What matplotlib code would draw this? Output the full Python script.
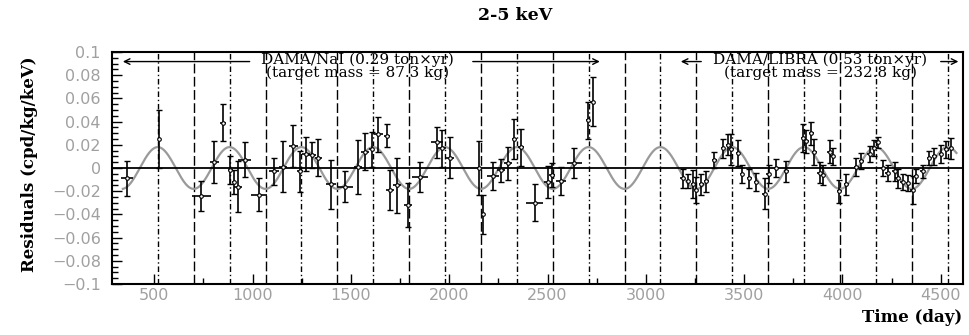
import numpy as np
import matplotlib
matplotlib.use("Agg")
import matplotlib.pyplot as plt
from matplotlib.ticker import MultipleLocator

# ---------------- data ----------------
nai_day = [360, 525, 740, 806, 849, 886, 905, 925, 959, 1032, 1108, 1153, 1208, 1240,
           1270, 1300, 1335, 1400, 1472, 1537, 1572, 1605, 1640, 1685, 1700, 1735,
           1790, 1850, 1938, 1965, 2005, 2150, 2172, 2222, 2262, 2298, 2332, 2366,
           2434, 2501, 2525, 2569, 2637, 2705, 2730]
nai_res = [-0.009, 0.025, -0.024, 0.005, 0.039, -0.002, -0.012, -0.016, 0.007, -0.023,
           -0.003, 0.001, 0.019, -0.003, 0.012, 0.011, 0.009, -0.014, -0.016, 0.001,
           0.014, 0.016, 0.029, 0.028, -0.019, -0.015, -0.032, -0.008, 0.022, 0.017,
           0.009, 0.000, -0.040, -0.007, -0.002, 0.004, 0.025, 0.018, -0.030, -0.012,
           -0.006, -0.011, 0.004, 0.041, 0.057]
nai_err = [0.015, 0.025, 0.013, 0.018, 0.016, 0.012, 0.010, 0.022, 0.015, 0.014,
           0.012, 0.022, 0.018, 0.018, 0.015, 0.011, 0.016, 0.021, 0.013, 0.023,
           0.016, 0.015, 0.015, 0.010, 0.017, 0.024, 0.019, 0.013, 0.013, 0.016,
           0.018, 0.023, 0.017, 0.012, 0.010, 0.014, 0.017, 0.016, 0.016, 0.014,
           0.010, 0.012, 0.013, 0.016, 0.021]
nai_bin = [30, 8, 50, 25, 15, 12, 12, 20, 35, 40, 25, 20, 25, 15, 20, 20, 20, 25, 40,
           20, 20, 15, 25, 15, 20, 20, 20, 40, 30, 20, 20, 10, 10, 30, 20, 20, 15, 15,
           45, 20, 15, 25, 40, 8, 12]

libra_day = [3188, 3214, 3240, 3256, 3282, 3307, 3349, 3392, 3418, 3435, 3469, 3490,
             3527, 3561, 3605, 3625, 3663, 3714, 3799, 3816, 3841, 3858, 3884, 3901,
             3935, 3951, 3985, 4019, 4070, 4096, 4138, 4163, 4180, 4206, 4231, 4265,
             4282, 4307, 4333, 4358, 4375, 4409, 4443, 4468, 4502, 4528, 4553]
libra_res = [-0.009, -0.0115, -0.014, -0.019, -0.014, -0.0115, 0.007, 0.017, 0.020,
             0.016, 0.013, -0.005, -0.009, -0.012, -0.022, -0.005, 0.000, -0.003,
             0.026, 0.023, 0.030, 0.014, -0.004, -0.006, 0.014, 0.010, -0.020, -0.014,
             0.001, 0.006, 0.012, 0.017, 0.022, 0.000, -0.004, -0.003, -0.009, -0.012,
             -0.013, -0.019, -0.007, -0.003, 0.009, 0.010, 0.012, 0.016, 0.017]
libra_err = [0.008, 0.006, 0.012, 0.011, 0.009, 0.009, 0.007, 0.008, 0.009, 0.013,
             0.011, 0.008, 0.008, 0.008, 0.013, 0.008, 0.008, 0.009, 0.012, 0.010,
             0.010, 0.011, 0.009, 0.009, 0.010, 0.007, 0.010, 0.009, 0.008, 0.007,
             0.007, 0.007, 0.005, 0.007, 0.007, 0.008, 0.008, 0.007, 0.007, 0.012,
             0.006, 0.006, 0.006, 0.007, 0.008, 0.007, 0.009]
libra_bin = 12

amplitude = 0.018      # cpd/kg/keV
phase_day = 152.5      # June 2nd
period = 365.25

peak_days = [517.75, 883.0, 1248.25, 1613.5, 1978.75, 2344.0, 2709.25, 3074.5,
             3439.75, 3805.0, 4170.25, 4535.5]
trough_days = [700.4, 1065.6, 1430.9, 1796.1, 2161.4, 2526.6, 2891.9, 3257.1,
               3622.4, 3987.6, 4352.9]

title = "2-5 keV"
ylabel = "Residuals (cpd/kg/keV)"
xlabel = "Time (day)"
nai_label = ["DAMA/NaI (0.29 ton\u00d7yr)", "(target mass = 87.3 kg)"]
libra_label = ["DAMA/LIBRA (0.53 ton\u00d7yr)", "(target mass = 232.8 kg)"]

# ---------------- figure ----------------
fig = plt.figure(figsize=(9.7, 3.35), dpi=100)
ax = fig.add_axes([0.1155, 0.152, 0.877, 0.693])
ax.set_xlim(285, 4612)
ax.set_ylim(-0.1, 0.1)

# vertical reference lines
for d in peak_days:
    ax.axvline(d, color="black", lw=1.0, dashes=(4, 2, 1, 2), zorder=1)
for d in trough_days:
    ax.axvline(d, color="black", lw=1.0, dashes=(7, 2.5), zorder=1)

# modulation curve
t = np.linspace(340, 4580, 3000)
ax.plot(t, amplitude * np.cos(2 * np.pi * (t - phase_day) / period),
        color="#9a9a9a", lw=1.6, zorder=2)

ax.axhline(0, color="black", lw=1.3, zorder=3)

# data
for days, res, err, xe in [(nai_day, nai_res, nai_err, nai_bin),
                           (libra_day, libra_res, libra_err, libra_bin)]:
    ax.errorbar(days, res, yerr=err, fmt="none", ecolor="black", elinewidth=1.2,
                capsize=2.2, capthick=1.0, zorder=4)
    ax.errorbar(days, res, xerr=xe, fmt="o", ms=2.6, mfc="white", mec="black",
                mew=0.8, ecolor="black", elinewidth=1.2, capsize=0, zorder=5)

# ticks
ax.xaxis.set_major_locator(MultipleLocator(500))
ax.xaxis.set_minor_locator(MultipleLocator(250))
ax.yaxis.set_major_locator(MultipleLocator(0.02))
ax.yaxis.set_minor_locator(MultipleLocator(0.005))
ax.tick_params(which="both", direction="in", top=False, right=False,
               labelcolor="#a0a0a0", labelsize=11.5, width=1.0)
ax.tick_params(which="major", length=7.5)
ax.tick_params(which="minor", length=4)
ax.tick_params(axis="x", pad=3)
ax.tick_params(axis="y", pad=8)


def ylab(v, p):
    if abs(v) < 1e-9:
        return "0"
    if abs(abs(v) - 0.1) < 1e-9:
        s = "0.1"
    else:
        s = f"{abs(v):.2f}"
    return ("\u2212" + s) if v < 0 else s


ax.yaxis.set_major_formatter(matplotlib.ticker.FuncFormatter(ylab))
for s in ax.spines.values():
    s.set_linewidth(1.5)

# annotations
serif = ["DejaVu Serif"]
y1 = 0.0917
ax.text(1534, 0.0995, nai_label[0] + "\n" + nai_label[1], ha="center", va="top",
        multialignment="center", linespacing=0.92, fontsize=11, family=serif, zorder=6)
arrow = dict(arrowstyle="->", color="black", lw=1.0, shrinkA=0, shrinkB=0)
ax.annotate("", xy=(340, y1), xytext=(985, y1), arrowprops=arrow)
ax.annotate("", xy=(2766, y1), xytext=(2120, y1), arrowprops=arrow)

ax.text(3888, 0.0995, libra_label[0] + "\n" + libra_label[1], ha="center", va="top",
        multialignment="center", linespacing=0.92, fontsize=11, family=serif, zorder=6)
ax.annotate("", xy=(3178, y1), xytext=(3282, y1), arrowprops=arrow)
ax.annotate("", xy=(4590, y1), xytext=(4500, y1), arrowprops=arrow)

fig.text(515 / 970, 1 - 15 / 335, title, ha="center", va="center",
         fontsize=12.5, fontweight="bold", family=serif)
fig.text(30 / 970, 1 - 164 / 335, ylabel, ha="center", va="center", rotation=90,
         fontsize=12, fontweight="bold", family=serif)
fig.text(962 / 970, 1 - 318 / 335, xlabel, ha="right", va="center",
         fontsize=12, fontweight="bold", family=serif)

fig.savefig("out.png", dpi=100)
